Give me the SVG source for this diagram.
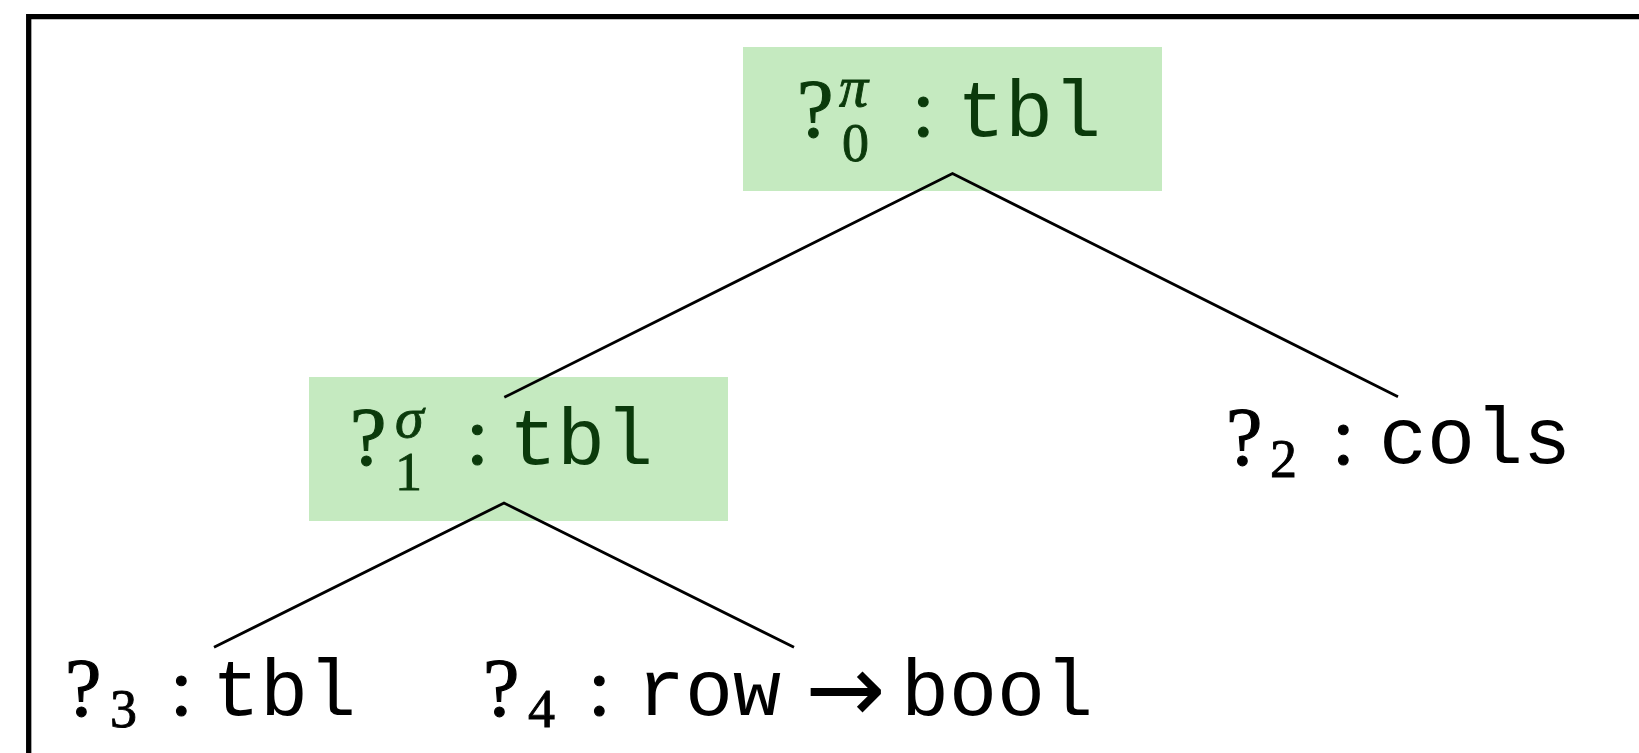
<svg xmlns="http://www.w3.org/2000/svg" width="1639" height="753" viewBox="0 0 1639 753">
  <style>
    .hole { fill: #c5eac0; }
    .lbl { font-family: "Liberation Serif", "DejaVu Serif", serif; }
    .m { font-family: "Liberation Serif", "DejaVu Serif", serif; font-size: 82px; stroke-width: 1.2px; }
    .s { font-family: "Liberation Serif", "DejaVu Serif", serif; font-size: 54px; stroke-width: 0.9px; }
    .g { font-family: "Liberation Serif", "DejaVu Serif", serif; font-size: 58px; font-style: italic; stroke-width: 0.9px; }
    .tt { font-family: "Liberation Mono", "DejaVu Sans Mono", monospace; font-size: 80px; stroke: none; }
    .ar { font-family: "DejaVu Sans", sans-serif; font-size: 96px; stroke: none; }
    .hl text { fill: #0b3a0b; stroke: #0b3a0b; }
    .plain text { fill: #000000; stroke: #000000; }
    .edge { stroke: #000000; stroke-width: 2.8; fill: none; stroke-linecap: butt; }
  </style>

  <rect x="0" y="0" width="1639" height="753" fill="#ffffff"/>
  <!-- frame: only top and left edges are visible -->
  <path d="M28.7,753 V16.7 H1639" fill="none" stroke="#000000" stroke-width="5.3"/>

  <!-- root hole ?0^pi : tbl -->
  <g id="n0" class="hl">
    <rect class="hole" x="743" y="47" width="419" height="144"/>
    <text class="lbl"><tspan class="m" x="797" y="136">?</tspan><tspan class="g" x="839" y="106">π</tspan><tspan class="s" x="842" y="161">0</tspan><tspan class="m" x="912" y="136">:</tspan><tspan class="tt" x="957" y="136">tbl</tspan></text>
  </g>

  <!-- ?1^sigma : tbl -->
  <g id="n1" class="hl">
    <rect class="hole" x="309" y="377" width="419" height="144"/>
    <text class="lbl"><tspan class="m" x="350" y="464">?</tspan><tspan class="g" x="395" y="437">σ</tspan><tspan class="s" x="395" y="490">1</tspan><tspan class="m" x="466" y="464">:</tspan><tspan class="tt" x="509" y="464">tbl</tspan></text>
  </g>

  <!-- ?2 : cols -->
  <g id="n2" class="plain">
    <text class="lbl"><tspan class="m" x="1226" y="464">?</tspan><tspan class="s" x="1270" y="477">2</tspan><tspan class="m" x="1332" y="464">:</tspan><tspan class="tt" x="1379" y="463">cols</tspan></text>
  </g>

  <!-- ?3 : tbl -->
  <g id="n3" class="plain">
    <text class="lbl"><tspan class="m" x="65" y="715">?</tspan><tspan class="s" x="110" y="727">3</tspan><tspan class="m" x="170" y="715">:</tspan><tspan class="tt" x="212" y="715">tbl</tspan></text>
  </g>

  <!-- ?4 : row -> bool -->
  <g id="n4" class="plain">
    <text class="lbl"><tspan class="m" x="483" y="715">?</tspan><tspan class="s" x="528" y="727">4</tspan><tspan class="m" x="588" y="715">:</tspan><tspan class="tt" x="637" y="715">row</tspan><tspan class="ar" x="805" y="722">→</tspan><tspan class="tt" x="901" y="715">bool</tspan></text>
  </g>

  <!-- tree edges, drawn over the hole highlights -->
  <g id="edges">
    <path class="edge" d="M504.3,397.3 L952.5,173.5 L1398,396.7"/>
    <path class="edge" d="M214,647.3 L504,503 L794,647.3"/>
  </g>
</svg>
